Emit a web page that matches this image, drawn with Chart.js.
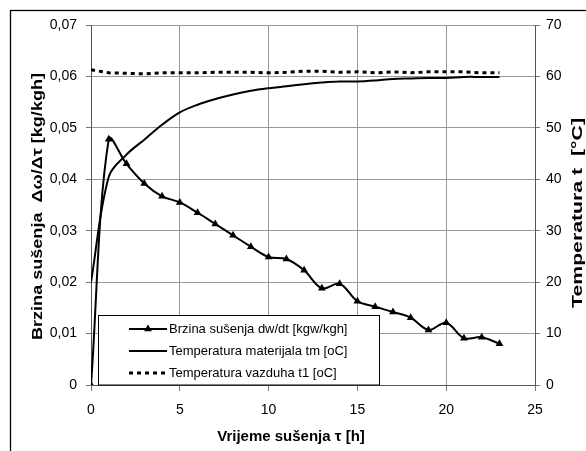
<!DOCTYPE html>
<html><head><meta charset="utf-8">
<script src="https://cdn.jsdelivr.net/npm/chart.js@4/dist/chart.umd.min.js"></script>
<style>html,body{margin:0;padding:0;background:#fff;}canvas{display:block;}</style>
</head><body>
<canvas id="c" width="586" height="451"></canvas>
<script>
// ---- data ----
const hours = [0,1,2,3,4,5,6,7,8,9,10,11,12,13,14,15,16,17,18,19,20,21,22,23];
const dryingRate = [0,0.0478,0.0430,0.0392,0.0367,0.0355,0.0335,0.0313,0.0291,0.0269,0.0249,0.0245,0.0223,0.0188,0.0197,0.0163,0.0152,0.0142,0.0131,0.0107,0.0121,0.0091,0.0093,0.0080];
const materialTemp = [20,40.5,44.8,47.7,50.6,53.0,54.5,55.6,56.5,57.2,57.7,58.1,58.5,58.8,59.0,59.0,59.2,59.5,59.6,59.7,59.7,59.9,59.9,59.9];
const airTemp = [61.3,60.7,60.6,60.5,60.7,60.7,60.7,60.8,60.8,60.8,60.7,60.8,61.0,61.0,60.8,60.9,60.7,60.9,60.7,60.9,60.9,60.9,60.7,60.7];
const seriesNames = ['Brzina sušenja dw/dt [kgw/kgh]','Temperatura materijala tm [oC]','Temperatura vazduha t1 [oC]'];
const xTitle = 'Vrijeme sušenja \u03C4 [h]';
const yTitle = 'Brzina sušenja  \u0394\u03C9/\u0394\u03C4 [kg/kgh]';
const y1Title = 'Temperatura t  [°C]';

Chart.defaults.font.family = "'Liberation Sans', Arial, sans-serif";
Chart.defaults.color = '#000';

const pts = (ys) => hours.map((h,i)=>({x:h,y:ys[i]}));

function rotatedTitle(ctx, text, cx, cy, len){
  ctx.save();
  ctx.translate(cx,cy); ctx.rotate(-Math.PI/2);
  const w = ctx.measureText(text).width;
  ctx.scale(len/w,1);
  ctx.fillText(text,0,0);
  ctx.restore();
}

const decor = {
  id:'decor',
  beforeDraw(chart){
    const ctx = chart.ctx;
    ctx.save();
    ctx.fillStyle='#fff';
    ctx.fillRect(0,0,chart.width,chart.height);
    ctx.strokeStyle='#000'; ctx.lineWidth=1.3;
    ctx.strokeRect(10.5,10.5,700,700);
    ctx.restore();
  },
  afterDraw(chart){
    const ctx = chart.ctx;
    ctx.save();
    ctx.fillStyle='#000';
    ctx.font = "bold 15px 'Liberation Sans', Arial, sans-serif";
    ctx.textAlign='center'; ctx.textBaseline='middle';
    ctx.fillText(xTitle, 291, 437);
    rotatedTitle(ctx, yTitle, 38, 206.5, 267);
    rotatedTitle(ctx, y1Title, 578, 213, 190);
    // legend
    const bx=98.5, by=315.5, bw=281, bh=69.5;
    ctx.fillStyle='#fff'; ctx.fillRect(bx,by,bw,bh);
    ctx.strokeStyle='#000'; ctx.lineWidth=1; ctx.strokeRect(bx,by,bw,bh);
    const rows=[329,351,373];
    chart.data.datasets.forEach((ds,i)=>{
      const y=rows[i];
      ctx.save();
      ctx.strokeStyle=ds.borderColor; ctx.lineWidth=ds.borderWidth;
      ctx.setLineDash(ds.borderDash||[]);
      ctx.beginPath(); ctx.moveTo(129,y); ctx.lineTo(167,y); ctx.stroke();
      ctx.setLineDash([]);
      if (ds.pointRadius>0){
        const r=ds.pointRadius, cx=148; let a=0;
        ctx.fillStyle=ds.pointBackgroundColor;
        ctx.beginPath();
        ctx.moveTo(cx+Math.sin(a)*r, y-Math.cos(a)*r);
        a+=2*Math.PI/3; ctx.lineTo(cx+Math.sin(a)*r, y-Math.cos(a)*r);
        a+=2*Math.PI/3; ctx.lineTo(cx+Math.sin(a)*r, y-Math.cos(a)*r);
        ctx.closePath(); ctx.fill();
      }
      ctx.restore();
      ctx.fillStyle='#000';
      ctx.font="13px 'Liberation Sans', Arial, sans-serif";
      ctx.textAlign='left'; ctx.textBaseline='middle';
      ctx.fillText(seriesNames[i],169,y);
    });
    ctx.restore();
  }
};

new Chart(document.getElementById('c'),{
  type:'line',
  data:{datasets:[
    {label:seriesNames[0], data:pts(dryingRate), yAxisID:'y', borderColor:'#000', borderWidth:2,
     pointStyle:'triangle', pointRadius:4.5, pointBackgroundColor:'#000', pointBorderColor:'#000', pointBorderWidth:0, tension:0.35, fill:false},
    {label:seriesNames[1], data:pts(materialTemp), yAxisID:'y1', borderColor:'#000', borderWidth:2,
     pointRadius:0, tension:0.35, fill:false},
    {label:seriesNames[2], data:pts(airTemp), yAxisID:'y1', borderColor:'#000', borderWidth:3, borderDash:[4,4],
     pointRadius:0, tension:0, fill:false}
  ]},
  options:{
    responsive:false, animation:false, devicePixelRatio:1,
    layout:{padding:{left:0,right:0,top:25,bottom:0}},
    plugins:{legend:{display:false}, tooltip:{enabled:false}},
    scales:{
      x:{type:'linear', min:0, max:25,
         ticks:{stepSize:5, font:{size:14}, color:'#000', padding:11, maxRotation:0},
         grid:{color:'#999', tickLength:6, tickColor:'#777'},
         border:{color:'#555', width:1},
         afterFit(s){ s.height=66; }},
      y:{position:'left', min:0, max:0.07,
         ticks:{stepSize:0.01, font:{size:14}, color:'#000', padding:9,
                callback:(v)=> v===0 ? '0' : v.toFixed(2).replace('.',',')},
         grid:{color:'#999', tickLength:5, tickColor:'#777'},
         border:{color:'#555', width:1},
         afterFit(s){ s.width=91; }},
      y1:{position:'right', min:0, max:70,
         ticks:{stepSize:10, font:{size:14}, color:'#000', padding:6},
         grid:{drawOnChartArea:false, tickLength:5, tickColor:'#777'},
         border:{color:'#555', width:1},
         afterFit(s){ s.width=51; }}
    }
  },
  plugins:[decor]
});
</script>
</body></html>
